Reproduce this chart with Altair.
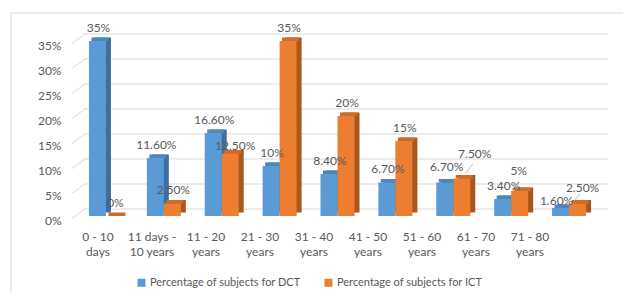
import altair as alt
import pandas as pd

# ---------------- data ----------------
categories = ["0 - 10 days", "11 days - 10 years", "11 - 20 years", "21 - 30 years",
              "31 - 40 years", "41 - 50 years", "51 - 60 years", "61 - 70 years",
              "71 - 80 years"]
tick_labels = ["0 - 10\ndays", "11 days -\n10 years", "11 - 20\nyears", "21 - 30\nyears",
               "31 - 40\nyears", "41 - 50\nyears", "51 - 60\nyears", "61 - 70\nyears",
               "71 - 80\nyears"]
series = ["Percentage of subjects for DCT", "Percentage of subjects for ICT"]
dct = [35, 11.6, 16.6, 10, 8.4, 6.7, 6.7, 3.4, 1.6]
ict = [0, 2.5, 12.5, 35, 20, 15, 7.5, 5, 2.5]
y_ticks = [0, 5, 10, 15, 20, 25, 30, 35]

# ---------------- style ----------------
BLUE, BLUE_D, BLUE_T = "#5B9BD5", "#3F6E9E", "#4E86C0"
ORANGE, ORANGE_D, ORANGE_T = "#ED7D31", "#A9561F", "#CF6B28"
TXT = "#595959"
GRID = "#D9D9D9"
FONT = "Lato"
FS = 12
HALF = 8.5          # half of a bar's front width
DEPTH_X, DEPTH_Y = 5, -3.5

# Excel moved a few data labels (px nudges relative to bar top centre)
label_nudge = {(2, 1): (5, -8), (6, 0): (2, -15.5), (6, 1): (13, -24.5),
               (7, 1): (-1, -20), (8, 0): (-4, -7.3), (8, 1): (5, -16)}
default_nudge = (1, -13.5)
leader_nudge = {(6, 1): [(11, -14.5), (4, -5.5)],
                (7, 1): [(-1, -9), (-3, -1)],
                (8, 1): [(2.5, -9.5), (-3.5, -2.5)]}


def fmt(v):
    return f"{v:g}%" if float(v).is_integer() else f"{v:.2f}%"


rows, lead = [], []
for i, c in enumerate(categories):
    for s, vals in enumerate((dct, ict)):
        v = vals[i]
        ndx, ndy = label_nudge.get((i, s), default_nudge)
        rows.append(dict(cat=c, series=series[s], sidx=s, value=v, label=fmt(v),
                         ndx=ndx, ndy=ndy))
        if (i, s) in leader_nudge:
            for k, (ox, oy) in enumerate(leader_nudge[(i, s)]):
                lead.append(dict(cat=c, sidx=s, value=v, lid=f"{i}-{s}", k=k,
                                 ox=ox, oy=oy))
bars = pd.DataFrame(rows)
leads = pd.DataFrame(lead)
grid_df = pd.DataFrame({"v": y_ticks})
cat_df = pd.DataFrame({"cat": categories, "lab": tick_labels})

SIDE = f"(datum.sidx == 0 ? {-HALF} : {HALF})"

xs = alt.Scale(domain=categories, paddingInner=0.413, paddingOuter=0.2065)
ys = alt.Scale(domain=[0, 35], nice=False, zero=True)
yax = alt.Axis(values=y_ticks, labelExpr="datum.value + '%'", grid=False, ticks=False,
               domain=False, title=None, labelPadding=16, labelOffset=4,
               labelColor=TXT, labelFont=FONT, labelFontSize=FS)
X = alt.X("cat:N", scale=xs, axis=None)
Y = alt.Y("value:Q", scale=ys, axis=yax)

grid = alt.Chart(grid_df).mark_rule(color=GRID, strokeWidth=1, yOffset=-7).encode(
    y=alt.Y("v:Q", scale=ys, axis=yax),
    x=alt.value(7), x2=alt.value(531))

wall = alt.Chart(grid_df).mark_rule(color=GRID, strokeWidth=1, yOffset=2.5,
                                    y2Offset=-7).encode(
    y=alt.Y("v:Q", scale=ys, axis=yax), y2="v:Q",
    x=alt.value(-5), x2=alt.value(8))

shadow = alt.Chart(bars).mark_bar(
    width=2 * HALF, xOffset={"expr": f"{SIDE} + {DEPTH_X}"},
    yOffset=DEPTH_Y, y2Offset=DEPTH_Y).encode(
    x=X, y=Y, y2=alt.datum(0),
    color=alt.condition(alt.datum.sidx == 0, alt.value(BLUE_D), alt.value(ORANGE_D)))

topface = alt.Chart(bars).mark_bar(
    width=2 * HALF, xOffset={"expr": f"{SIDE} + {DEPTH_X / 2}"},
    yOffset=DEPTH_Y, y2Offset=0).encode(
    x=X, y=Y, y2="value:Q",
    color=alt.condition(alt.datum.sidx == 0, alt.value(BLUE_T), alt.value(ORANGE_T)))

front = alt.Chart(bars).mark_bar(width=2 * HALF, xOffset={"expr": SIDE}).encode(
    x=X, y=Y, y2=alt.datum(0),
    color=alt.Color("series:N", scale=alt.Scale(domain=series, range=[BLUE, ORANGE]),
                    legend=alt.Legend(orient="none", legendX=59, legendY=236,
                                      direction="horizontal", title=None,
                                      symbolType="square", symbolSize=64,
                                      symbolStrokeWidth=0, labelFont=FONT,
                                      labelFontSize=11, labelColor=TXT,
                                      labelLimit=0, labelOffset=3,
                                      columnPadding=22, padding=0)))

vlabels = alt.Chart(bars).mark_text(
    font=FONT, fontSize=FS, color=TXT, baseline="middle", align="center",
    dx={"expr": f"{SIDE} + datum.ndx"}, dy={"expr": "datum.ndy"}).encode(
    x=X, y=Y, text="label:N")

leaders = alt.Chart(leads).mark_line(
    color="#A6A6A6", strokeWidth=0.8,
    xOffset={"expr": f"{SIDE} + datum.ox"}, yOffset={"expr": "datum.oy"}).encode(
    x=X, y=Y, detail="lid:N", order="k:Q")

border = alt.Chart(pd.DataFrame({"a": [0]})).mark_rect(
    fillOpacity=0, stroke=GRID, strokeWidth=1).encode(
    x=alt.value(-66), y=alt.value(-28), x2=alt.value(700), y2=alt.value(400))

inner = alt.layer(border, grid, wall, shadow, topface, front, vlabels, leaders)

catlab = alt.Chart(cat_df).mark_text(
    font=FONT, fontSize=FS, color=TXT, baseline="top", align="center",
    lineBreak="\n", lineHeight=15).encode(
    x=alt.X("cat:N", scale=alt.Scale(type="point", domain=categories, range=[21, 453],
                                     padding=0),
            axis=None),
    y=alt.value(191), text="lab:N")

chart = alt.layer(inner, catlab).resolve_scale(x="independent").properties(
    width=521, height=175,
    padding={"left": 69, "top": 33, "right": 25, "bottom": 77},
    autosize=alt.AutoSizeParams(type="none"),
    background="white",
).configure_view(stroke=None)

chart.save("out.html", embed_options={"renderer": "svg", "actions": False})
